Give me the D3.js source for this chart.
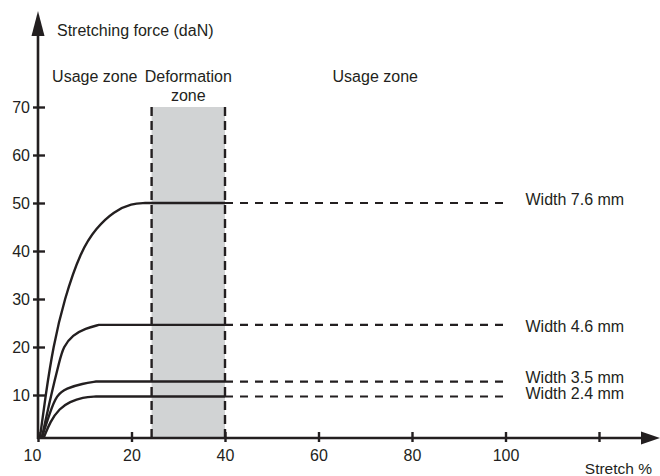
<!DOCTYPE html>
<html>
<head>
<meta charset="utf-8">
<script src="https://cdnjs.cloudflare.com/ajax/libs/d3/7.8.5/d3.min.js"></script>
<style>
  body { margin: 0; background: #fff; }
  svg text { font-family: "Liberation Sans", Arial, sans-serif; fill: #231f20; }
</style>
</head>
<body>
<div id="chart"></div>
<script>
// data
var xTicks = [10, 20, 40, 60, 80, 100, 120];
var xTickLabels = ['10', '20', '40', '60', '80', '100', ''];
var yTicks = [10, 20, 30, 40, 50, 60, 70];
var deformStart = 24.3, deformEnd = 40, zoneTop = 70, dashEnd = 100;

var widthNames = ['Width 7.6 mm', 'Width 4.6 mm', 'Width 3.5 mm', 'Width 2.4 mm'];
// [stretch %, force daN]
var curve76 = [[10.2, 0], [10.82, 10], [11.61, 20], [12.81, 30], [14.57, 40], [16.21, 44.8], [18.13, 48.3], [20.09, 49.9], [22.9, 50], [40, 50]];
var curve46 = [[10.4, 0], [11.4, 10], [12.3, 17.1], [12.7, 20], [13.7, 22.5], [15.1, 23.9], [16.5, 24.6], [40, 24.6]];
var curve35 = [[10.4, 0], [11.3, 6.1], [12, 10], [13, 11.4], [14.8, 12.4], [16.2, 12.8], [40, 12.8]];
var curve24 = [[10.6, 0], [11.3, 3.8], [12.3, 6.9], [13.4, 8.4], [14.8, 9.5], [16.2, 9.65], [40, 9.65]];
var curves = [curve76, curve46, curve35, curve24];

var w = 660, h = 476;
var ink = '#231f20';
var x0 = 38, step = 93.5;

// the stretch axis is not linear: ticks are evenly spaced
var x = d3.scaleLinear()
  .domain(xTicks)
  .range(xTicks.map(function(d, i) { return x0 + i * step; }));

// force axis: 0 sits a bit closer to 10 than the other steps
var y = d3.scaleLinear()
  .domain([0, 10, 70])
  .range([438, 395, 107]);

var svg = d3.select('#chart')
  .append('svg')
  .attr('width', w)
  .attr('height', h);

// deformation zone
svg.append('rect')
  .attr('x', x(deformStart))
  .attr('y', y(zoneTop))
  .attr('width', x(deformEnd) - x(deformStart))
  .attr('height', y(0) - y(zoneTop))
  .attr('fill', '#d1d3d4');

[deformStart, deformEnd].forEach(function(d) {
  svg.append('line')
    .attr('x1', x(d)).attr('x2', x(d))
    .attr('y1', y(zoneTop)).attr('y2', y(0))
    .attr('stroke', ink)
    .attr('stroke-width', 2.4)
    .attr('stroke-dasharray', '9,5');
});

// curves: smooth rise, then a flat solid run up to the end of the deformation zone
var line = d3.line()
  .x(function(d) { return x(d[0]); })
  .y(function(d) { return y(d[1]); })
  .curve(d3.curveBasis);

var labelX = x(dashEnd) + 20;

curves.forEach(function(c, i) {
  var plateau = c[c.length - 1][1];
  var rise = c.slice(0, -1);
  var knee = rise[rise.length - 1];
  svg.append('path')
    .attr('d', line(rise.concat([knee])) + 'L' + x(c[c.length - 1][0]) + ',' + y(plateau))
    .attr('fill', 'none')
    .attr('stroke', ink)
    .attr('stroke-width', 2.4);

  svg.append('line')
    .attr('x1', x(deformEnd)).attr('x2', x(dashEnd))
    .attr('y1', y(plateau)).attr('y2', y(plateau))
    .attr('stroke', ink)
    .attr('stroke-width', 2.2)
    .attr('stroke-dasharray', '8,7');

  svg.append('text')
    .attr('x', labelX)
    .attr('y', y(plateau) + (i === 1 ? 7 : (i === 2 ? 1 : 2)))
    .attr('font-size', 16)
    .text(widthNames[i]);
});

// axes
var yAxis = svg.append('g')
  .attr('transform', 'translate(' + x0 + ',0)')
  .call(d3.axisLeft(y).tickValues(yTicks).tickSize(6).tickPadding(2));
yAxis.select('.domain').remove();
yAxis.selectAll('.tick line').attr('x1', -5).attr('x2', 7).attr('stroke', ink).attr('stroke-width', 2.4);
yAxis.selectAll('.tick text').attr('font-size', 16).attr('font-family', null).style('fill', ink);

var xAxis = svg.append('g')
  .attr('transform', 'translate(0,' + y(0) + ')')
  .call(d3.axisBottom(x).tickValues(xTicks).tickFormat(function(d, i) { return xTickLabels[i]; }).tickSize(4).tickPadding(8));
xAxis.select('.domain').remove();
xAxis.selectAll('.tick line').attr('y1', -6).attr('y2', 4).attr('stroke', ink).attr('stroke-width', 2.4);
xAxis.selectAll('.tick text').attr('font-size', 16).attr('font-family', null).style('fill', ink);
xAxis.selectAll('.tick text').filter(function(d) { return d === 10; }).attr('dx', -6);

svg.append('line')
  .attr('x1', x0).attr('x2', x0)
  .attr('y1', y(0) + 1).attr('y2', 30)
  .attr('stroke', ink).attr('stroke-width', 2.6);
svg.append('path')
  .attr('d', 'M' + x0 + ',11 L' + (x0 - 6.5) + ',36 L' + (x0 + 6.5) + ',36 Z')
  .attr('fill', ink);

svg.append('line')
  .attr('x1', x0 - 1).attr('x2', 645)
  .attr('y1', y(0)).attr('y2', y(0))
  .attr('stroke', ink).attr('stroke-width', 2.6);
svg.append('path')
  .attr('d', 'M660,' + y(0) + ' L641,' + (y(0) - 6.5) + ' L641,' + (y(0) + 6.5) + ' Z')
  .attr('fill', ink);

// titles
svg.append('text')
  .attr('x', 57).attr('y', 36)
  .attr('font-size', 16)
  .text('Stretching force (daN)');

svg.append('text')
  .attr('x', 652).attr('y', 474)
  .attr('text-anchor', 'end')
  .attr('font-size', 15.5)
  .text('Stretch %');

// zone labels
svg.append('text')
  .attr('x', (x(10) + x(deformStart)) / 2).attr('y', 82)
  .attr('text-anchor', 'middle').attr('font-size', 16)
  .text('Usage zone');

var mid = (x(deformStart) + x(deformEnd)) / 2;
svg.append('text')
  .attr('x', mid).attr('y', 82)
  .attr('text-anchor', 'middle').attr('font-size', 16)
  .text('Deformation');
svg.append('text')
  .attr('x', mid).attr('y', 101)
  .attr('text-anchor', 'middle').attr('font-size', 16)
  .text('zone');

svg.append('text')
  .attr('x', (x(deformEnd) + labelX) / 2).attr('y', 82)
  .attr('text-anchor', 'middle').attr('font-size', 16)
  .text('Usage zone');
</script>
</body>
</html>
